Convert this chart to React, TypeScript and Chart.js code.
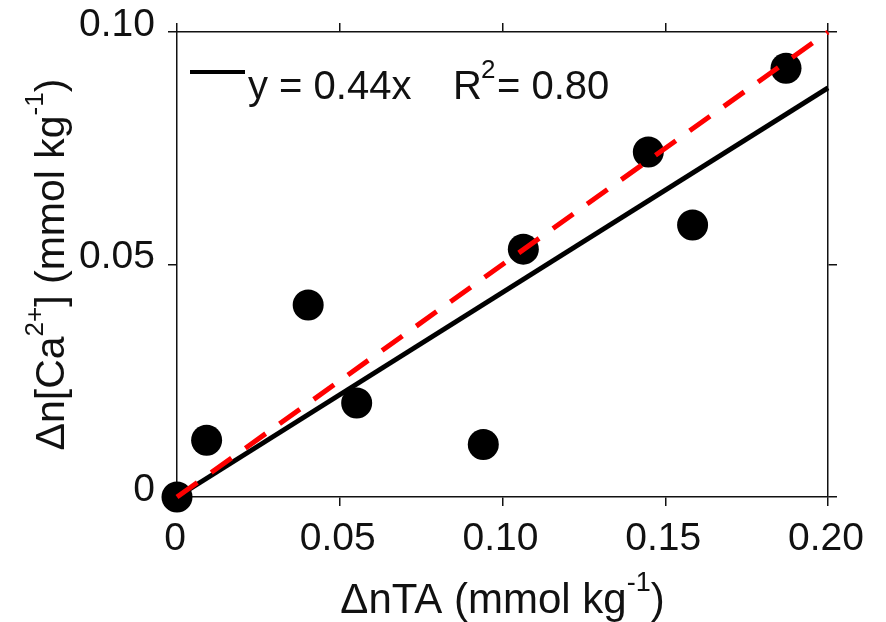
import React, { useEffect, useRef } from 'react';
import { Chart, registerables } from 'chart.js';

Chart.register(...registerables);

// ---- data ----
const deltaTA = [0, 0.0091, 0.0403, 0.0552, 0.0941, 0.1064, 0.1448, 0.1584, 0.1871];
const deltaCa = [0, 0.0122, 0.0413, 0.0202, 0.0113, 0.0533, 0.0742, 0.0585, 0.0922];
const fitX = [0, 0.2];
const fitY = [0, 0.088];
const refX = [0, 0.2];
const refY = [0, 0.1];
const xTicks = [0, 0.05, 0.1, 0.15, 0.2];
const yTicks = [0, 0.05, 0.1];
const xTickLabels = ['0', '0.05', '0.10', '0.15', '0.20'];
const yTickLabels = ['0', '0.05', '0.10'];
const xTitle = [{ t: 'ΔnTA (mmol kg' }, { t: '-1', sup: true }, { t: ')' }];
const yTitle = [
  { t: 'Δn[Ca' },
  { t: '2+', sup: true },
  { t: '] (mmol kg' },
  { t: '-1', sup: true },
  { t: ')' },
];
const legendEq = 'y = 0.44x';
const legendR = 'R';
const legendRSup = '2';
const legendRVal = '= 0.80';

const FONT = '"Liberation Sans", Arial, Helvetica, sans-serif';

type Seg = { t: string; sup?: boolean };

function drawRich(ctx: CanvasRenderingContext2D, segs: Seg[], cx: number, y: number, size: number) {
  const supSize = Math.round(size * 0.64);
  const main = `${size}px ${FONT}`;
  const sup = `${supSize}px ${FONT}`;
  let total = 0;
  const widths = segs.map((s) => {
    ctx.font = s.sup ? sup : main;
    const w = ctx.measureText(s.t).width;
    total += w;
    return w;
  });
  let x = cx - total / 2;
  segs.forEach((s, i) => {
    ctx.font = s.sup ? sup : main;
    ctx.fillText(s.t, x, s.sup ? y - size * 0.52 : y);
    x += widths[i];
  });
}

const textPlugin = {
  id: 'textPlugin',
  afterDraw(chart: any) {
    const ctx: CanvasRenderingContext2D = chart.ctx;
    const area = chart.chartArea;
    ctx.save();
    ctx.fillStyle = '#111';
    ctx.textBaseline = 'alphabetic';
    ctx.textAlign = 'left';
    // x title
    drawRich(ctx, xTitle, (area.left + area.right) / 2, 613, 42);
    // y title
    ctx.save();
    ctx.translate(64, (area.top + area.bottom) / 2);
    ctx.rotate(-Math.PI / 2);
    drawRich(ctx, yTitle, 0, 0, 41);
    ctx.restore();
    // legend
    ctx.strokeStyle = '#000';
    ctx.lineWidth = 4;
    ctx.beginPath();
    ctx.moveTo(190, 72);
    ctx.lineTo(245, 72);
    ctx.stroke();
    ctx.font = `40px ${FONT}`;
    ctx.fillText(legendEq, 248, 99);
    ctx.fillText(legendR, 453, 99);
    ctx.font = `26px ${FONT}`;
    ctx.fillText(legendRSup, 481, 78);
    ctx.font = `40px ${FONT}`;
    ctx.fillText(legendRVal, 497, 99);
    ctx.restore();
  },
};

const axisColor = '#111';

function setTicks(vals: number[]) {
  return (scale: any) => {
    scale.ticks = vals.map((v) => ({ value: v }));
  };
}

export default function App() {
  const ref = useRef<HTMLCanvasElement>(null);
  useEffect(() => {
    document.body.style.margin = '0';
    const canvas = ref.current!;
    const chart = new Chart(canvas, {
      type: 'scatter',
      data: {
        datasets: [
          {
            label: 'ref',
            type: 'line',
            data: refX.map((x, i) => ({ x, y: refY[i] })),
            borderColor: '#ff0000',
            borderWidth: 5,
            borderDash: [25, 17],
            borderCapStyle: 'butt',
            pointRadius: 0,
            fill: false,
            clip: false,
            order: 0,
          } as any,
          {
            label: 'fit',
            type: 'line',
            data: fitX.map((x, i) => ({ x, y: fitY[i] })),
            borderColor: '#000',
            borderWidth: 5,
            borderCapStyle: 'butt',
            pointRadius: 0,
            fill: false,
            clip: false,
            order: 1,
          } as any,
          {
            label: 'data',
            data: deltaTA.map((x, i) => ({ x, y: deltaCa[i] })),
            backgroundColor: '#000',
            borderColor: '#000',
            borderWidth: 0,
            pointRadius: 15.5,
            pointHoverRadius: 15.5,
            clip: false,
            order: 2,
          } as any,
        ],
      },
      options: {
        animation: false,
        responsive: false,
        events: [],
        layout: { padding: { top: 23, right: 49, left: 0, bottom: 0 } },
        plugins: { legend: { display: false }, tooltip: { enabled: false } },
        scales: {
          x: {
            type: 'linear',
            position: 'bottom',
            min: 0,
            max: 0.2,
            afterBuildTicks: setTicks(xTicks),
            afterFit: (s: any) => {
              s.height = 125;
              s.paddingLeft = 0;
              s.paddingRight = 0;
            },
            grid: { drawOnChartArea: false, drawTicks: true, tickLength: 9, color: axisColor, lineWidth: 1.5 },
            border: { color: axisColor, width: 1.5 },
            ticks: {
              color: '#111',
              padding: 10,
              maxRotation: 0,
              autoSkip: false,
              labelOffset: -2,
              font: { family: FONT, size: 39 },
              callback: (v: any) => xTickLabels[xTicks.indexOf(Number(v))] ?? '',
            },
          },
          x2: {
            type: 'linear',
            position: 'top',
            min: 0,
            max: 0.2,
            afterBuildTicks: setTicks(xTicks),
            afterFit: (s: any) => {
              s.height = 9;
              s.paddingLeft = 0;
              s.paddingRight = 0;
            },
            grid: { drawOnChartArea: false, drawTicks: true, tickLength: 9, color: axisColor, lineWidth: 1.5 },
            border: { color: axisColor, width: 1.5 },
            ticks: { display: false },
          },
          y: {
            type: 'linear',
            position: 'left',
            min: 0,
            max: 0.1,
            afterBuildTicks: setTicks(yTicks),
            afterFit: (s: any) => {
              s.width = 177;
              s.paddingTop = 0;
              s.paddingBottom = 0;
            },
            grid: { drawOnChartArea: false, drawTicks: true, tickLength: 9, color: axisColor, lineWidth: 1.5 },
            border: { color: axisColor, width: 1.5 },
            ticks: {
              color: '#111',
              padding: 13,
              autoSkip: false,
              labelOffset: -7,
              font: { family: FONT, size: 39 },
              callback: (v: any) => yTickLabels[yTicks.indexOf(Number(v))] ?? '',
            },
          },
          y2: {
            type: 'linear',
            position: 'right',
            min: 0,
            max: 0.1,
            afterBuildTicks: setTicks(yTicks),
            afterFit: (s: any) => {
              s.width = 9;
              s.paddingTop = 0;
              s.paddingBottom = 0;
            },
            grid: { drawOnChartArea: false, drawTicks: true, tickLength: 9, color: axisColor, lineWidth: 1.5 },
            border: { color: axisColor, width: 1.5 },
            ticks: { display: false },
          },
        },
      } as any,
      plugins: [textPlugin],
    });
    return () => chart.destroy();
  }, []);
  return (
    <div style={{ width: 886, height: 622, background: '#fff' }}>
      <canvas ref={ref} width={886} height={622} style={{ display: 'block' }} />
    </div>
  );
}
